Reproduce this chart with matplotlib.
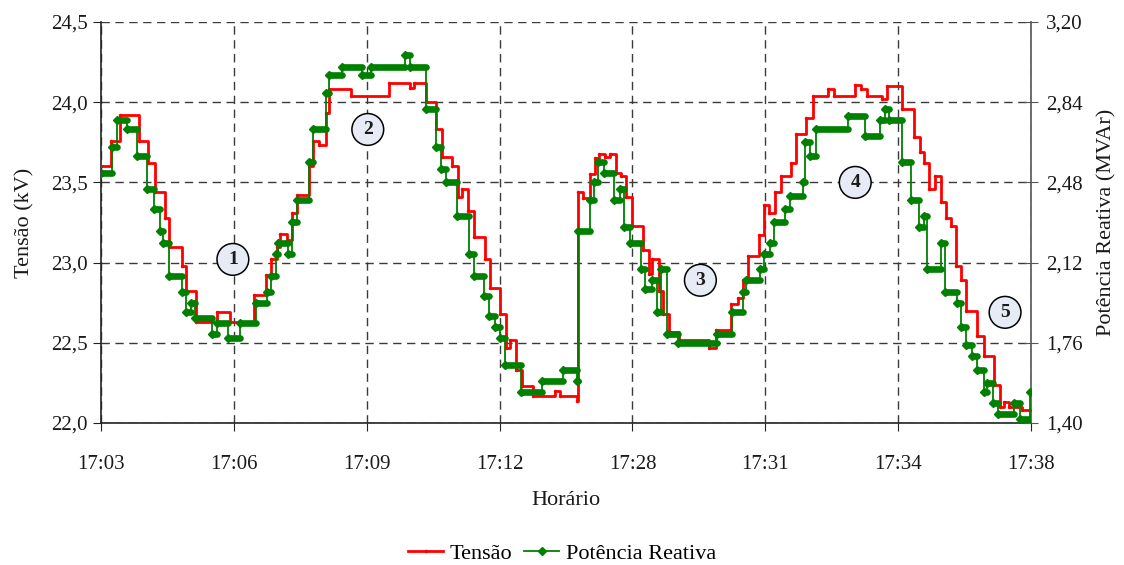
import matplotlib
matplotlib.use("Agg")
import matplotlib.pyplot as plt
import numpy as np
from matplotlib.ticker import FuncFormatter

plt.rcParams['font.family'] = ['Liberation Serif', 'DejaVu Serif']

# time axis: seconds counted along the plotted window (3 min per division)
tick_pos = [0, 180, 360, 540, 720, 900, 1080, 1260]
tick_labels = ['17:03', '17:06', '17:09', '17:12', '17:28', '17:31', '17:34', '17:38']

# Tensão (kV) - instants where the value changes, step held until the next one
t_tensao = [0, 13.5, 25.7, 51.0, 63.6, 73.1, 86.6, 92.0, 109.6, 114.6, 128.6, 156.6,
            174.6, 207.1, 222.9, 230.1, 237.8, 242.3, 251.7, 258.1, 264.9, 281.9,
            287.3, 295.4, 304.5, 309.0, 339.3, 390.2, 418.2, 424.0, 439.9, 454.3,
            461.9, 476.0, 483.6, 489.5, 497.1, 504.8, 519.7, 526.5, 540.0, 548.1,
            554.5, 561.7, 570.7, 585.1, 614.4, 621.2, 644.6, 646.0, 652.7, 661.8,
            669.9, 675.3, 682.1, 688.9, 697.9, 704.7, 711.5, 719.6, 733.9, 743.0,
            746.6, 756.5, 761.0, 770.0, 783.6, 824.2, 833.3, 853.6, 862.5, 869.3,
            876.1, 891.9, 898.7, 905.4, 913.6, 921.3, 934.8, 941.5, 955.1, 964.0,
            984.3, 992.4, 1021.8, 1029.5, 1038.4, 1058.7, 1065.5, 1085.0, 1101.7,
            1109.4, 1115.2, 1122.0, 1130.1, 1137.8, 1144.6, 1151.3, 1158.9, 1164.9,
            1172.5, 1187.3, 1196.4, 1209.9, 1217.6, 1223.5, 1230.2, 1248.2, 1259.0]
v_tensao = [23.60, 23.76, 23.92, 23.76, 23.62, 23.44, 23.28, 23.10, 22.98, 22.82,
            22.63, 22.69, 22.63, 22.80, 22.92, 23.02, 23.10, 23.18, 23.14, 23.31,
            23.42, 23.60, 23.76, 23.73, 23.93, 24.08, 24.04, 24.12, 24.09, 24.12,
            24.00, 23.83, 23.66, 23.60, 23.41, 23.46, 23.32, 23.16, 23.02, 22.84,
            22.68, 22.47, 22.52, 22.33, 22.23, 22.17, 22.20, 22.17, 22.14, 23.44,
            23.40, 23.55, 23.65, 23.68, 23.66, 23.68, 23.56, 23.54, 23.41, 23.23,
            23.08, 22.93, 23.02, 22.82, 22.68, 22.57, 22.52, 22.47, 22.58, 22.74,
            22.78, 22.89, 23.04, 23.17, 23.36, 23.31, 23.44, 23.54, 23.62, 23.80,
            23.90, 24.04, 24.08, 24.04, 24.11, 24.08, 24.04, 24.02, 24.10, 23.96,
            23.78, 23.69, 23.62, 23.46, 23.54, 23.38, 23.28, 23.23, 22.98, 22.89,
            22.70, 22.54, 22.42, 22.24, 22.10, 22.13, 22.10, 22.08, 22.08]

# Potência Reativa (MVAr)
t_reativa = [0, 14.5, 21.2, 35.2, 48.7, 62.3, 71.7, 80.5, 84.6, 92.0, 109.6, 115.0,
             121.4, 127.2, 150.9, 157.7, 172.6, 188.1, 209.8, 224.3, 230.1, 236.8,
             239.5, 253.8, 258.5, 264.9, 281.5, 287.3, 304.1, 309.0, 325.8, 353.9,
             366.4, 411.4, 418.2, 439.9, 453.4, 460.9, 467.6, 482.5, 498.0, 504.8,
             519.0, 525.1, 533.9, 540.7, 546.8, 568.4, 596.8, 625.3, 644.6, 646.0,
             661.8, 667.2, 673.3, 680.8, 694.3, 703.1, 707.9, 717.3, 730.9, 737.6,
             745.8, 753.2, 759.3, 766.1, 782.3, 834.4, 854.7, 870.3, 874.3, 893.2,
             898.0, 906.1, 912.2, 927.1, 933.8, 950.8, 954.2, 960.9, 969.0, 1012.4,
             1035.3, 1055.6, 1062.4, 1067.8, 1085.4, 1097.6, 1108.4, 1115.2, 1119.3,
             1138.2, 1143.7, 1159.2, 1165.3, 1172.1, 1179.5, 1187.0, 1196.4, 1200.5,
             1208.6, 1215.4, 1237.0, 1245.2, 1258.7]
v_reativa = [2.52, 2.64, 2.76, 2.72, 2.60, 2.45, 2.36, 2.26, 2.21, 2.06, 1.99, 1.90,
             1.94, 1.87, 1.80, 1.85, 1.78, 1.85, 1.94, 1.99, 2.06, 2.16, 2.21, 2.16,
             2.30, 2.40, 2.57, 2.72, 2.88, 2.96, 3.00, 2.96, 3.00, 3.05, 3.00, 2.81,
             2.64, 2.54, 2.48, 2.33, 2.16, 2.06, 1.97, 1.88, 1.83, 1.78, 1.66, 1.54,
             1.59, 1.64, 1.59, 2.26, 2.40, 2.48, 2.57, 2.52, 2.40, 2.45, 2.28, 2.21,
             2.09, 2.00, 2.04, 1.90, 2.09, 1.80, 1.76, 1.80, 1.90, 1.99, 2.04, 2.09,
             2.16, 2.21, 2.30, 2.36, 2.42, 2.48, 2.66, 2.60, 2.72, 2.78, 2.69, 2.76,
             2.81, 2.76, 2.57, 2.40, 2.28, 2.33, 2.09, 2.21, 1.99, 1.94, 1.83, 1.75,
             1.70, 1.64, 1.54, 1.58, 1.49, 1.44, 1.49, 1.42, 1.54]

# numbered regions marked on the chart (t, kV)
marcas = ['1', '2', '3', '4', '5']
marca_t = [178.6, 361.4, 812.0, 1021.8, 1224.8]
marca_kv = [23.02, 23.83, 22.89, 23.50, 22.69]

RED = '#ff0000'
GREEN = '#008000'
TXT = '#1a1a1a'
GRID = '#3a3a3a'

fig = plt.figure(figsize=(11.24, 5.65), dpi=100)
ax = fig.add_axes([0.0899, 0.2513, 0.8274, 0.7098])
ax2 = ax.twinx()

ax.plot(t_tensao, v_tensao, drawstyle='steps-post', color=RED, lw=2.0,
        marker='.', markersize=3, label='Tensão', zorder=3)

ax2.plot(t_reativa, v_reativa, drawstyle='steps-post', color=GREEN, lw=1.3,
         marker='D', markersize=4, label='Potência Reativa', zorder=3)
# every sample carries a marker, so the flat stretches read as thick bars
for i in range(len(t_reativa) - 1):
    ax2.plot([t_reativa[i], t_reativa[i + 1]], [v_reativa[i], v_reativa[i]],
             color=GREEN, lw=4.8, solid_capstyle='round', zorder=3)

for s, x, y in zip(marcas, marca_t, marca_kv):
    ax.text(x, y, s, ha='center', va='center', fontsize=14, fontweight='bold',
            color=TXT, zorder=5,
            bbox=dict(boxstyle='circle,pad=0.38', fc='#e6ebf5', ec='black', lw=1.1))

ax.set_xlim(0, 1260)
ax.set_ylim(22.0, 24.5)
ax2.set_ylim(1.40, 3.20)
ax.set_xticks(tick_pos)
ax.set_xticklabels(tick_labels)
ax.set_yticks(np.arange(22.0, 24.51, 0.5))
ax2.set_yticks([1.40, 1.76, 2.12, 2.48, 2.84, 3.20])
ax.yaxis.set_major_formatter(FuncFormatter(lambda v, p: f'{v:.1f}'.replace('.', ',')))
ax2.yaxis.set_major_formatter(FuncFormatter(lambda v, p: f'{v:.2f}'.replace('.', ',')))

ax.grid(True, color=GRID, linestyle=(0, (6, 4)), lw=1.0)
ax.set_axisbelow(True)
for sp in ['top', 'right']:
    ax.spines[sp].set_visible(False)
for sp in ['top', 'left', 'bottom']:
    ax2.spines[sp].set_visible(False)
ax.spines['left'].set_color('#222222')
ax.spines['bottom'].set_color('#222222')
ax.spines['left'].set_linewidth(1.2)
ax.spines['bottom'].set_linewidth(1.2)
ax2.spines['right'].set_color('#555555')
ax2.spines['right'].set_linewidth(1.2)

ax.tick_params(axis='both', labelsize=15, labelcolor=TXT, color='#222222',
               direction='out', length=6)
ax.tick_params(axis='x', pad=17)
ax2.tick_params(axis='y', labelsize=15, labelcolor=TXT, color='#555555',
                direction='inout', length=10, pad=6)

ax.set_xlabel('Horário', fontsize=16, color=TXT, labelpad=12)
ax.set_ylabel('Tensão (kV)', fontsize=16, color=TXT, labelpad=12)
ax2.set_ylabel('Potência Reativa (MVAr)', fontsize=16, color=TXT, labelpad=10)

h1, l1 = ax.get_legend_handles_labels()
h2, l2 = ax2.get_legend_handles_labels()
fig.legend(h1 + h2, l1 + l2, loc='center', bbox_to_anchor=(0.5, 0.02),
           ncol=2, frameon=False, fontsize=16, handlelength=1.6,
           handletextpad=0.3, columnspacing=0.5)

fig.savefig('out.png', dpi=100)
